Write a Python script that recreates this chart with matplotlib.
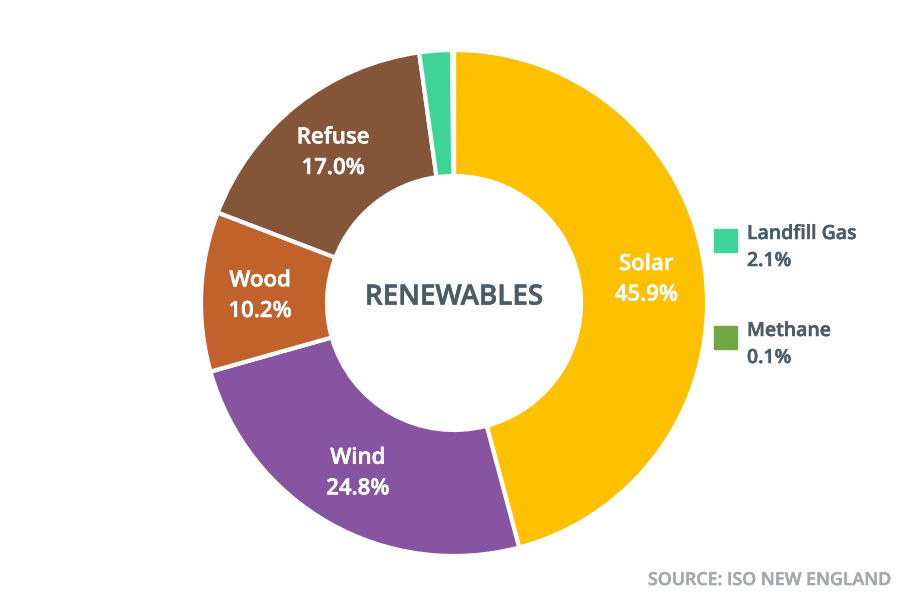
import matplotlib
matplotlib.use("Agg")
import matplotlib.pyplot as plt
import matplotlib.patheffects as pe
import numpy as np
from matplotlib.patches import Rectangle

categories = ["Solar", "Wind", "Wood", "Refuse", "Landfill Gas", "Methane"]
values = [45.9, 24.8, 10.2, 17.0, 2.1, 0.1]
colors = ["#FFC000", "#8654A1", "#C1622C", "#845538", "#3ED498", "#70A845"]
inside_labels = ["Solar", "Wind", "Wood", "Refuse"]
legend_labels = ["Landfill Gas", "Methane"]

plt.rcParams['font.family'] = ['Open Sans', 'DejaVu Sans']
WT = 'semibold'

def fx(c, lw=0.4):
    return [pe.withStroke(linewidth=lw, foreground=c)]

W, H = 909, 602
cx, cy = 454, 303
R, r_in = 253, 127
TXT = '#4A5C66'
SRC = '#A3AAAE'

fig = plt.figure(figsize=(W/100, H/100), dpi=100)
ax = fig.add_axes([0, 0, 1, 1])

wedges, _ = ax.pie(values, colors=colors, startangle=90, counterclock=False,
                   radius=R, wedgeprops=dict(width=R - r_in, edgecolor='white', linewidth=3))

ax.set_xlim(-cx, W - cx)
ax.set_ylim(-(H - cy), cy)
ax.set_aspect('equal')
ax.axis('off')

total = sum(values)
cum = 0
for cat, v in zip(categories, values):
    mid = 90 - (cum + v / 2) / total * 360
    cum += v
    if cat in inside_labels:
        rr = 194
        x = rr * np.cos(np.radians(mid))
        y = rr * np.sin(np.radians(mid))
        ax.text(x, y - 2, f"{cat}\n{v:.1f}%", ha='center', va='center', color='white',
                fontsize=16, fontweight=WT, linespacing=1.6, path_effects=fx('white'))

ax.text(0, 6, "RENEWABLES", ha='center', va='center', color=TXT,
        fontsize=20, fontweight=WT, path_effects=fx(TXT, 0.45))

# legend entries for small slices
leg_y = [cy - 240, cy - 337]
for lab, ypix in zip(legend_labels, leg_y):
    i = categories.index(lab)
    ax.add_patch(Rectangle((714 - cx, ypix - 12), 23, 23, color=colors[i]))
    ax.text(747 - cx, ypix + 6, lab, ha='left', va='center', color=TXT,
            fontsize=14, fontweight=WT, path_effects=fx(TXT, 0.35))
    ax.text(747 - cx, ypix - 21, f"{values[i]:.1f}%", ha='left', va='center', color=TXT,
            fontsize=14, fontweight=WT, path_effects=fx(TXT, 0.35))

ax.text(890 - cx, cy - 580, "SOURCE: ISO NEW ENGLAND", ha='right', va='center',
        color=SRC, fontsize=12.8, fontweight=WT, path_effects=fx(SRC, 0.35))

fig.savefig("out.png", dpi=100)
